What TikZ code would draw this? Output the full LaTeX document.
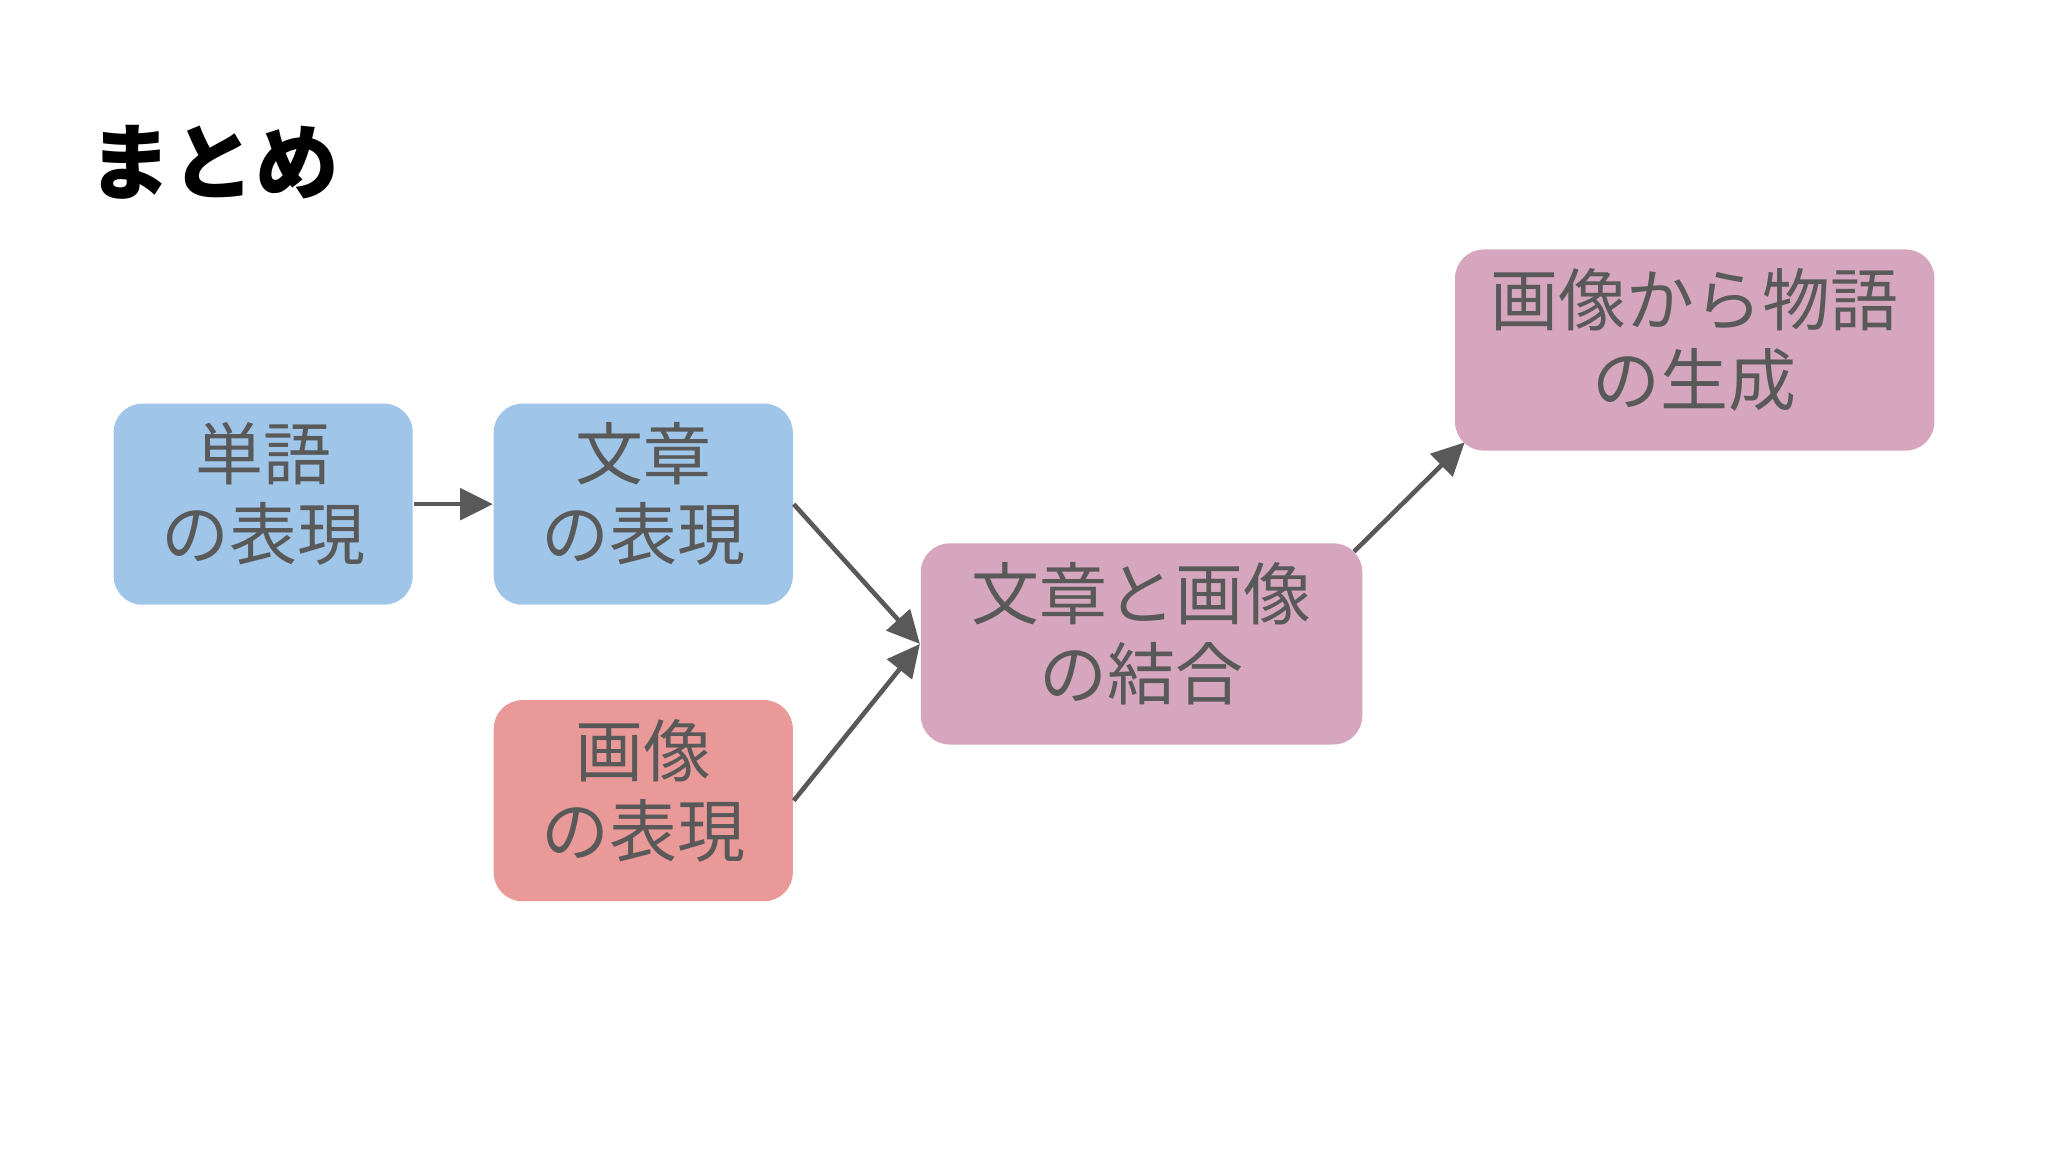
\documentclass[tikz,border=0pt]{standalone}
\usepackage{fontspec}
\setmainfont{Noto Sans CJK JP}
\usepackage{xcolor}
\usepackage{tikz}
\usetikzlibrary{arrows.meta}
\definecolor{bleu}{HTML}{9FC5E8}
\definecolor{rouge}{HTML}{EA9999}
\definecolor{rose}{HTML}{D5A6BD}
\definecolor{gristexte}{HTML}{595959}
\tikzset{
	boite/.style={rounded corners=0.22cm, minimum height=1.54cm, inner sep=0pt,
		text depth=0.2cm, text=gristexte, align=center,
		font=\fontsize{14.8pt}{17.4pt}\selectfont},
	fleche/.style={draw=gristexte, line width=0.035cm,
		-{Triangle[length=0.25cm,width=0.24cm]}}
}

\begin{document}
\begin{tikzpicture}

	\useasboundingbox [fill=white] (0,0) rectangle (15.68,8.82);

	% titre
	\node (titre) [anchor=west, inner sep=0pt, font=\fontsize{18.2pt}{20pt}\selectfont\bfseries] at (0.67,7.58) {まとめ};

	% etapes
	\node (mot)    [boite, fill=bleu,  minimum width=2.29cm] at (2.015,4.96) {単語\\の表現};
	\node (phrase) [boite, fill=bleu,  minimum width=2.29cm] at (4.925,4.96) {文章\\の表現};
	\node (image)  [boite, fill=rouge, minimum width=2.29cm] at (4.925,2.69) {画像\\の表現};
	\node (union)  [boite, fill=rose,  minimum width=3.38cm] at (8.74,3.89)  {文章と画像\\の結合};
	\node (recit)  [boite, fill=rose,  minimum width=3.67cm] at (12.975,6.14) {画像から物語\\の生成};

	% fleches
	\draw [fleche] (mot.east) -- (phrase.west);
	\draw [fleche] (phrase.east) -- (union.west);
	\draw [fleche] (image.east) -- (union.west);
	\draw [fleche] ([xshift=-0.07cm,yshift=-0.07cm]union.north east) -- ([xshift=0.08cm,yshift=0.07cm]recit.south west);

\end{tikzpicture}
\end{document}
